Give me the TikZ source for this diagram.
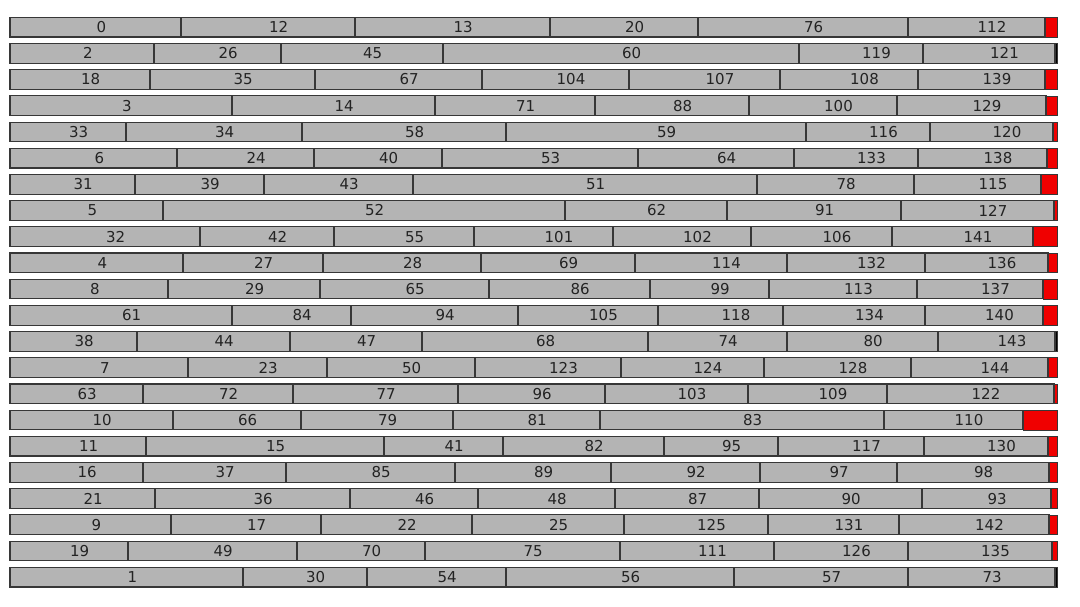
\documentclass[tikz,border=0pt]{standalone}
\usepackage{fontspec}
\setmainfont{DejaVu Sans}
\definecolor{boxgray}{RGB}{180,180,180}
\definecolor{edgegray}{RGB}{55,55,55}
\definecolor{txtgray}{RGB}{35,35,35}
\definecolor{barred}{RGB}{240,0,0}
\tikzset{
  binbox/.style={fill=boxgray,draw=edgegray,line width=1.1pt},
  endbox/.style={fill=#1,draw=edgegray,line width=0.7pt},
  lbl/.style={anchor=west,inner sep=0pt,text=txtgray,font=\fontsize{15}{16}\selectfont}
}
\newcommand\BinRow[4]{%
  \pgfmathsetmacro\rowtop{17.3+26.19*#1}%
  \pgfmathsetmacro\rowbot{\rowtop+19.7}%
  \pgfmathsetmacro\rowmid{\rowtop+9.85}%
  \foreach \a/\b/\t in {#2}{%
    \draw[binbox] (\a,\rowtop) rectangle (\b,\rowbot);
    \node[lbl] (n\t) at ({(\a+\b)/2+1},\rowmid) {\t};
  }%
  \draw[endbox=#4] (#3,\rowtop) rectangle (1057,\rowbot);
}
\begin{document}
\begin{tikzpicture}[x=1pt,y=-1pt]
\fill[white] (0,0) rectangle (1080,606);
\useasboundingbox (0,0) rectangle (1080,606);
\BinRow{0}{10/181/0, 181/355/12, 355/550/13, 550/698/20, 698/908/76, 908/1045/112}{1045}{barred}
\BinRow{1}{10/154/2, 154/281/26, 281/443/45, 443/799/60, 799/923/119, 923/1055/121}{1055}{black}
\BinRow{2}{10/150/18, 150/315/35, 315/482/67, 482/629/104, 629/780/107, 780/918/108, 918/1045/139}{1045}{barred}
\BinRow{3}{10/232/3, 232/435/14, 435/595/71, 595/749/88, 749/897/100, 897/1046/129}{1046}{barred}
\BinRow{4}{10/126/33, 126/302/34, 302/506/58, 506/806/59, 806/930/116, 930/1053/120}{1053}{barred}
\BinRow{5}{10/177/6, 177/314/24, 314/442/40, 442/638/53, 638/794/64, 794/918/133, 918/1047/138}{1047}{barred}
\BinRow{6}{10/135/31, 135/264/39, 264/413/43, 413/757/51, 757/914/78, 914/1041/115}{1041}{barred}
\BinRow{7}{10/163/5, 163/565/52, 565/727/62, 727/901/91, 901/1054/127}{1054}{barred}
\BinRow{8}{10/200/32, 200/334/42, 334/474/55, 474/613/101, 613/751/102, 751/892/106, 892/1033/141}{1033}{barred}
\BinRow{9}{10/183/4, 183/323/27, 323/481/28, 481/635/69, 635/787/114, 787/925/132, 925/1048/136}{1048}{barred}
\BinRow{10}{10/168/8, 168/320/29, 320/489/65, 489/650/86, 650/769/99, 769/917/113, 917/1043/137}{1043}{barred}
\BinRow{11}{10/232/61, 232/351/84, 351/518/94, 518/658/105, 658/783/118, 783/925/134, 925/1043/140}{1043}{barred}
\BinRow{12}{10/137/38, 137/290/44, 290/422/47, 422/648/68, 648/787/74, 787/938/80, 938/1055/143}{1055}{black}
\BinRow{13}{10/188/7, 188/327/23, 327/475/50, 475/621/123, 621/764/124, 764/911/128, 911/1048/144}{1048}{barred}
\BinRow{14}{10/143/63, 143/293/72, 293/458/77, 458/605/96, 605/748/103, 748/887/109, 887/1054/122}{1054}{barred}
\BinRow{15}{10/173/10, 173/301/66, 301/453/79, 453/600/81, 600/884/83, 884/1023/110}{1023}{barred}
\BinRow{16}{10/146/11, 146/384/15, 384/503/41, 503/664/82, 664/778/95, 778/924/117, 924/1048/130}{1048}{barred}
\BinRow{17}{10/143/16, 143/286/37, 286/455/85, 455/611/89, 611/760/92, 760/897/97, 897/1049/98}{1049}{barred}
\BinRow{18}{10/155/21, 155/350/36, 350/478/46, 478/615/48, 615/759/87, 759/922/90, 922/1051/93}{1051}{barred}
\BinRow{19}{10/171/9, 171/321/17, 321/472/22, 472/624/25, 624/768/125, 768/899/131, 899/1049/142}{1049}{barred}
\BinRow{20}{10/128/19, 128/297/49, 297/425/70, 425/620/75, 620/774/111, 774/908/126, 908/1052/135}{1052}{barred}
\BinRow{21}{10/243/1, 243/367/30, 367/506/54, 506/734/56, 734/908/57, 908/1055/73}{1055}{black}
\end{tikzpicture}
\end{document}
